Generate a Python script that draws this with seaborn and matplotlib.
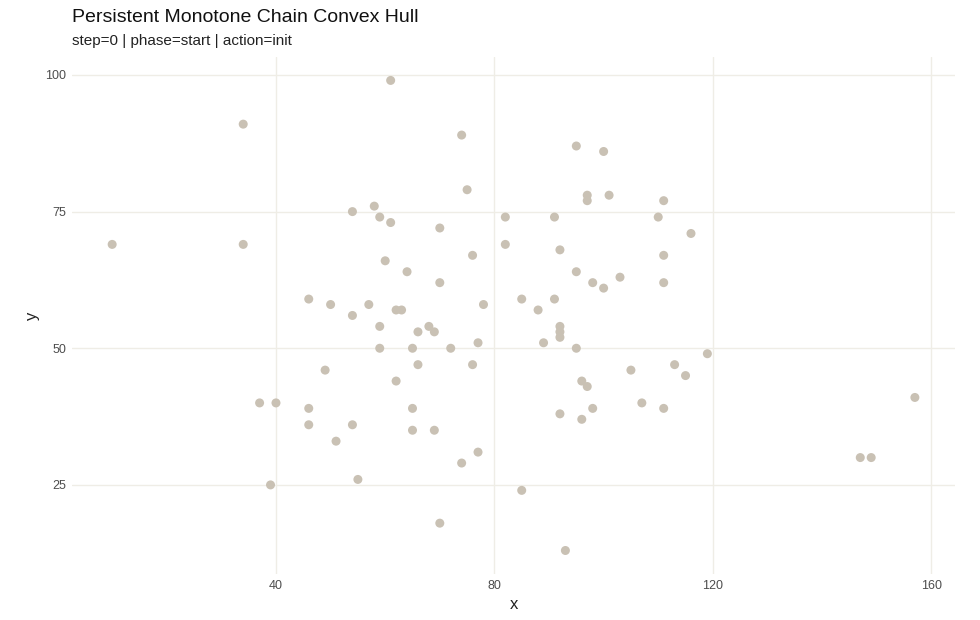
import matplotlib
matplotlib.use('Agg')
import matplotlib.pyplot as plt
import seaborn as sns
import pandas as pd

# point coordinates
xs = [10, 34, 34, 61, 74, 75, 54, 58, 59, 61, 70, 82, 82, 76, 60, 64, 70,
      46, 50, 57, 62, 63, 78, 85, 54, 59, 68, 66, 69, 77, 59, 65, 72, 66, 76,
      49, 62, 37, 40, 46, 65, 46, 54, 65, 69, 51, 77, 39, 55, 70, 74,
      95, 100, 97, 97, 101, 111, 91, 110, 116, 92, 111, 95, 98, 100, 103, 111,
      91, 88, 92, 92, 92, 89, 95, 119, 113, 105, 115, 96, 97, 107, 98, 111,
      92, 96, 85, 93, 147, 149, 157]
ys = [69, 91, 69, 99, 89, 79, 75, 76, 74, 73, 72, 74, 69, 67, 66, 64, 62,
      59, 58, 58, 57, 57, 58, 59, 56, 54, 54, 53, 53, 51, 50, 50, 50, 47, 47,
      46, 44, 40, 40, 39, 39, 36, 36, 35, 35, 33, 31, 25, 26, 18, 29,
      87, 86, 78, 77, 78, 77, 74, 74, 71, 68, 67, 64, 62, 61, 63, 62,
      59, 57, 54, 53, 52, 51, 50, 49, 47, 46, 45, 44, 43, 40, 39, 39,
      38, 37, 24, 13, 30, 30, 41]

df = pd.DataFrame({'x': xs, 'y': ys})

sns.set_theme(style='white')
plt.rcParams['font.family'] = ['Liberation Sans', 'DejaVu Sans']

fig = plt.figure(figsize=(9.8, 6.2), dpi=100)
ax = fig.add_axes([0.0735, 0.0742, 0.901, 0.834])
sns.scatterplot(data=df, x='x', y='y', ax=ax, color='#c9c1b4', s=42,
                edgecolor='none', zorder=3)

ax.set_xlim(2.65, 164.35)
ax.set_ylim(8.7, 103.3)
ax.set_xticks([40, 80, 120, 160])
ax.set_yticks([25, 50, 75, 100])
ax.grid(True, color='#efede6', linewidth=1.0)
for s in ax.spines.values():
    s.set_visible(False)
ax.tick_params(axis='both', length=0, labelsize=9, colors='#4d4d4d', pad=4)
ax.set_xlabel('x', fontsize=12, color='#222222')
ax.set_ylabel('y', fontsize=12, color='#222222')

fig.text(0.0735, 0.972, 'Persistent Monotone Chain Convex Hull', fontsize=14,
         color='#111111', va='center')
fig.text(0.0735, 0.934, 'step=0 | phase=start | action=init', fontsize=11,
         color='#222222', va='center')

fig.savefig('out.png', dpi=100)
